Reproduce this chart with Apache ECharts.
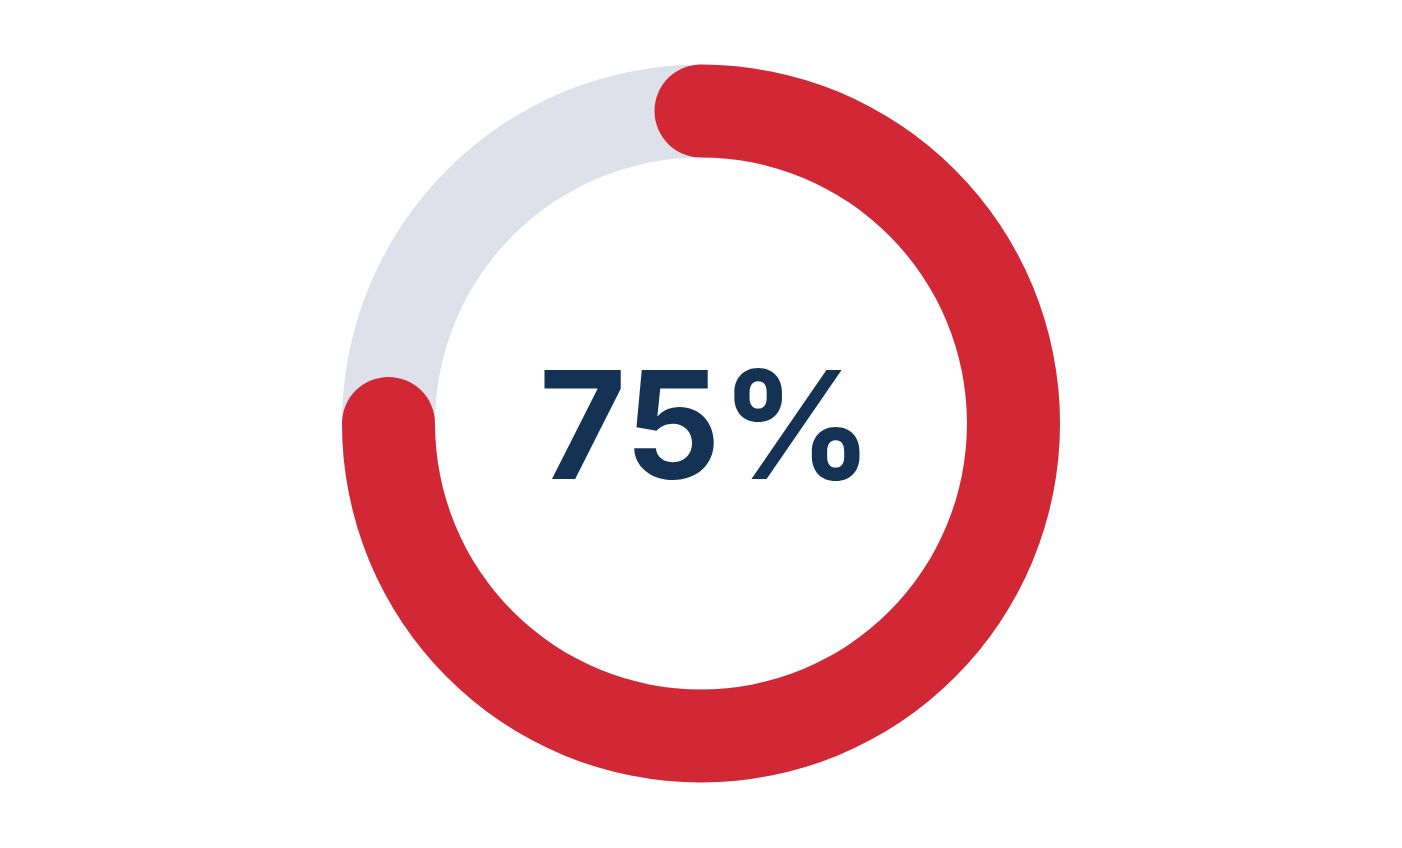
<!DOCTYPE html>
<html>
<head>
<meta charset="utf-8">
<script src="https://cdn.jsdelivr.net/npm/echarts@6/dist/echarts.min.js"></script>
<style>
  html, body { margin: 0; padding: 0; background: #fff; }
  #chart { width: 1402px; height: 848px; }
</style>
</head>
<body>
<div id="chart"></div>
<script>
// progress value shown in the ring
const progressValue = [75];
const progressMax = 100;

const chart = echarts.init(document.getElementById('chart'));

chart.setOption({
  animation: false,
  series: [
    {
      type: 'gauge',
      center: [701, 423.5],
      radius: 359,
      startAngle: 90,
      endAngle: -270,
      min: 0,
      max: progressMax,
      pointer: { show: false },
      progress: {
        show: true,
        roundCap: true,
        width: 93,
        itemStyle: { color: '#d22835' }
      },
      axisLine: {
        lineStyle: {
          width: 93,
          color: [[1, '#dee1ea']]
        }
      },
      splitLine: { show: false },
      axisTick: { show: false },
      axisLabel: { show: false },
      title: { show: false },
      detail: {
        offsetCenter: [5, 10],
        valueAnimation: false,
        formatter: '{value}%',
        fontFamily: 'Inter',
        fontWeight: 'bold',
        fontSize: 150,
        color: '#143253'
      },
      data: [{ value: progressValue[0] }]
    }
  ]
});
</script>
</body>
</html>
